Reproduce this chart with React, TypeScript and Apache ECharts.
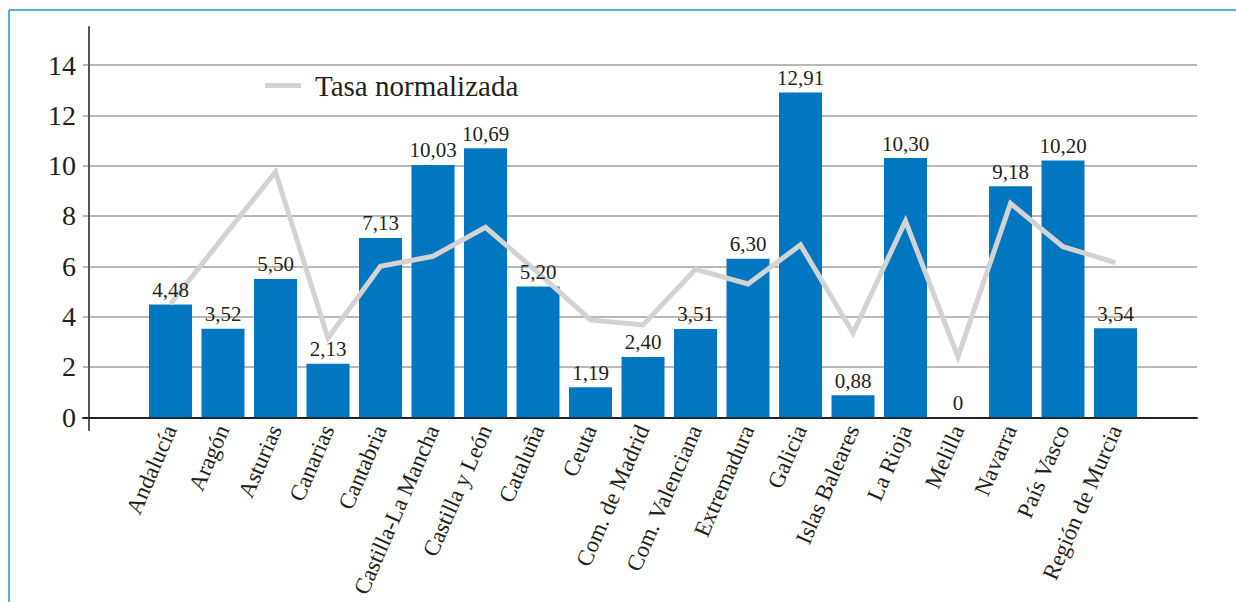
import React, { useEffect, useRef } from "react";
import * as echarts from "echarts";

const categories = [
  "Andalucía", "Aragón", "Asturias", "Canarias", "Cantabria", "Castilla-La Mancha",
  "Castilla y León", "Cataluña", "Ceuta", "Com. de Madrid", "Com. Valenciana",
  "Extremadura", "Galicia", "Islas Baleares", "La Rioja", "Melilla", "Navarra",
  "País Vasco", "Región de Murcia",
];
const barValues = [4.48, 3.52, 5.5, 2.13, 7.13, 10.03, 10.69, 5.2, 1.19, 2.4, 3.51, 6.3, 12.91, 0.88, 10.3, 0, 9.18, 10.2, 3.54];
const tasaNormalizada = [4.5, 7.15, 9.75, 3.15, 6.0, 6.4, 7.55, 5.75, 3.87, 3.67, 5.88, 5.3, 6.85, 3.35, 7.8, 2.4, 8.5, 6.78, 6.15];
const lineName = "Tasa normalizada";
const yMin = 0;
const yMax = 14;
const yInterval = 2;

const FONT = "Liberation Serif";
const TEXT = "#231f20";

export default function App() {
  const ref = useRef<HTMLDivElement>(null);
  useEffect(() => {
    document.body.style.margin = "0";
    if (!ref.current) return;
    const chart = echarts.init(ref.current, null, { renderer: "svg" });
    const plotTop = 65;
    const plotHeight = 352.3;
    const fmt = (p: any) => (p.value === 0 ? "0" : Number(p.value).toFixed(2).replace(".", ","));
    chart.setOption({
      animation: false,
      backgroundColor: "#ffffff",
      textStyle: { fontFamily: FONT },
      graphic: [
        { type: "line", shape: { x1: 9, y1: 10, x2: 1236, y2: 10 }, style: { stroke: "#1b8fdc", lineWidth: 1.5 } },
        { type: "line", shape: { x1: 9, y1: 10, x2: 9, y2: 602 }, style: { stroke: "#1b8fdc", lineWidth: 1.5 } },
      ],
      legend: {
        data: [lineName],
        left: 260,
        top: 66,
        icon: "rect",
        itemWidth: 36,
        itemHeight: 5,
        textStyle: { fontFamily: FONT, fontSize: 29, color: TEXT, padding: [0, 0, 0, 9] },
      },
      grid: [
        { left: 89, top: 27, width: 1, height: 403 },
        { left: 83, top: plotTop, width: 1197 - 83, height: plotHeight },
        { left: 144.25, top: plotTop, width: 997.5, height: plotHeight },
      ],
      xAxis: [
        { gridIndex: 0, type: "value", show: false },
        {
          gridIndex: 1, type: "value", min: 0, max: 1,
          axisLine: { show: true, lineStyle: { color: "#222", width: 2 } },
          axisTick: { show: false }, axisLabel: { show: false }, splitLine: { show: false },
        },
        {
          gridIndex: 2, type: "category", data: categories,
          axisLine: { show: false }, axisTick: { show: false },
          axisLabel: {
            interval: 0, rotate: 66.5, margin: 9, fontSize: 23, color: TEXT, fontFamily: FONT,
          },
        },
      ],
      yAxis: [
        {
          gridIndex: 0, type: "value", min: 0, max: 1,
          axisLine: { show: true, lineStyle: { color: "#555", width: 2 } },
          axisTick: { show: false }, axisLabel: { show: false }, splitLine: { show: false },
        },
        {
          gridIndex: 1, type: "value", min: yMin, max: yMax, interval: yInterval,
          axisLine: { show: false },
          axisTick: { show: false },
          axisLabel: { fontSize: 28, color: TEXT, margin: 7, fontFamily: FONT },
          splitLine: { show: true, lineStyle: { color: "#a0a0a0", width: 1.5 } },
        },
        { gridIndex: 2, type: "value", min: yMin, max: yMax, interval: yInterval, show: false, splitLine: { show: false } },
      ],
      series: [
        {
          name: "Valores",
          type: "bar",
          xAxisIndex: 2,
          yAxisIndex: 2,
          data: barValues,
          barWidth: 43,
          barGap: "-100%",
          itemStyle: { color: "#0077c0" },
          z: 2,
        },
        {
          name: lineName,
          type: "line",
          xAxisIndex: 2,
          yAxisIndex: 2,
          data: tasaNormalizada,
          symbol: "none",
          z: 3,
          itemStyle: { color: "#d3d3d3" },
          lineStyle: { color: "#d3d3d3", width: 5, join: "miter" },
        },
        {
          name: "Etiquetas",
          type: "bar",
          xAxisIndex: 2,
          yAxisIndex: 2,
          data: barValues,
          barWidth: 43,
          barGap: "-100%",
          itemStyle: { color: "rgba(0,0,0,0)" },
          z: 4,
          silent: true,
          label: {
            show: true,
            position: "top",
            distance: 4,
            fontSize: 21,
            color: TEXT,
            fontFamily: FONT,
            formatter: fmt,
          },
        },
      ],
    });
    return () => chart.dispose();
  }, []);
  return <div ref={ref} style={{ width: 1236, height: 602 }} />;
}
